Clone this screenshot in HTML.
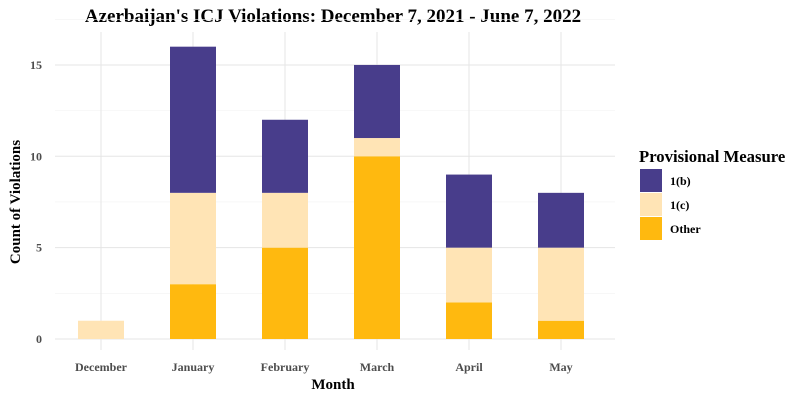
<!DOCTYPE html>
<html><head><meta charset="utf-8"><style>
body{margin:0;background:#fff;}
svg text{font-family:"Liberation Serif",serif;font-weight:bold;}
</style></head><body>
<svg id="chart" width="800" height="400" viewBox="0 0 800 400">
<text x="333" y="22" text-anchor="middle" font-size="19" fill="#000">Azerbaijan's ICJ Violations: December 7, 2021 - June 7, 2022</text>
<g id="grid"></g>
<g id="bars"></g>
<g id="axes"></g>
<text x="333" y="389" text-anchor="middle" font-size="15">Month</text>
<text transform="translate(20,202) rotate(-90)" text-anchor="middle" font-size="15">Count of Violations</text>
<g>
<text x="639" y="162" font-size="16.7">Provisional Measure</text>
<rect x="640" y="169" width="22" height="23" fill="#483D8B"/>
<text x="670" y="185" font-size="12">1(b)</text>
<rect x="640" y="193" width="22" height="23" fill="#FFE4B5"/>
<text x="670" y="209" font-size="12">1(c)</text>
<rect x="640" y="217" width="22" height="23" fill="#FFB90F"/>
<text x="670" y="233" font-size="12">Other</text>
</g>
</svg>
<script>
const months=["December","January","February","March","April","May"];
const other=[0,3,5,10,2,1];
const c1=[1,5,3,1,3,4];
const b1=[0,8,4,4,4,3];
const yTicks=[0,5,10,15];
const NS="http://www.w3.org/2000/svg";
const x0=55,x1=615,step=92,bw=46;
const y=v=>339-v*18.27;
const xc=i=>101+i*step;
function mk(t,a,p){const e=document.createElementNS(NS,t);for(const k in a)e.setAttribute(k,a[k]);document.getElementById(p).appendChild(e);return e;}
for(let v=0;v<=17.5;v+=2.5){const l=mk("line",{x1:x0,x2:x1,y1:y(v),y2:y(v),stroke:v%5===0?"#e5e5e5":"#f2f2f2","stroke-width":v%5===0?1:0.6},"grid");

}
months.forEach((m,i)=>{const l=mk("line",{x1:xc(i),x2:xc(i),y1:32,y2:350,stroke:"#e5e5e5"},"grid");


const t=mk("text",{x:xc(i),y:371,"text-anchor":"middle","font-size":"12",fill:"#4d4d4d"},"axes");t.textContent=m;


let base=0;[[other,"#FFB90F","other"],[c1,"#FFE4B5","1c"],[b1,"#483D8B","1b"]].forEach(([arr,col,nm])=>{
const v=arr[i];if(v>0){const r=mk("rect",{x:xc(i)-bw/2,y:y(base+v),width:bw,height:y(base)-y(base+v),fill:col},"bars");

}base+=v;});});
yTicks.forEach(v=>{const t=mk("text",{x:42,y:y(v)+4,"text-anchor":"end","font-size":"12",fill:"#4d4d4d"},"axes");t.textContent=v;

});
</script>
</body></html>
